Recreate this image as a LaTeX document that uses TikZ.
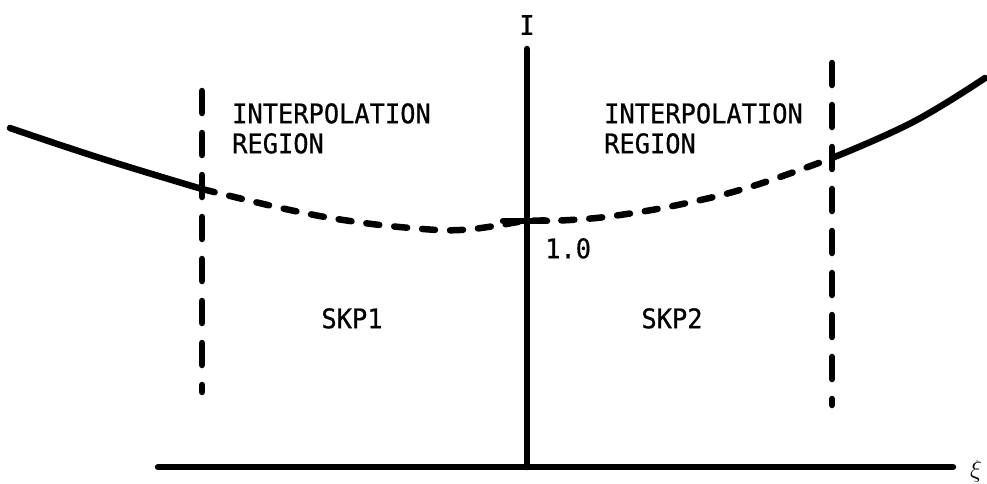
\documentclass[tikz,border=0pt]{standalone}
\usepackage{fontspec}
\newfontfamily\labfont[FakeStretch=0.94,FakeBold=0.6]{DejaVu Sans Mono}
\begin{document}
\begin{tikzpicture}[x=1pt,y=-1pt,
  axisline/.style={line width=6.5pt, line cap=round},
  curveline/.style={line width=6.5pt, line cap=round},
  dashcurve/.style={line width=6.5pt, line cap=round, dash pattern=on 13pt off 15pt},
  regionline/.style={line width=6.5pt, line cap=round, dash pattern=on 22pt off 20pt},
  lab/.style={font=\labfont\fontsize{27}{30}\selectfont, inner sep=0pt, align=left}]
\useasboundingbox (0,0) rectangle (987,483);
% axes
\coordinate (xstart) at (158,467);
\coordinate (xend) at (953,467);
\coordinate (ytop) at (527,49);
\coordinate (ybot) at (527,467);
\draw[axisline] (xstart) -- (xend);
\draw[axisline] (ybot) -- (ytop);
\node[lab, anchor=north] (ilab) at (527,15) {I};
\node[inner sep=0pt, font=\fontsize{30}{32}\selectfont] (xilab) at (976,471) {$\xi$};
% region boundaries
\coordinate (la) at (202,91);
\coordinate (lb) at (202,392);
\coordinate (ra) at (832,63);
\coordinate (rb) at (832,405);
\draw[regionline] (la) -- (lb);
\draw[regionline] (ra) -- (rb);
% solid curve parts
\draw[curveline] plot[smooth, tension=0.7] coordinates {(10,128) (100,158) (202,189)};
\draw[curveline] plot[smooth, tension=0.7] coordinates {(832,158) (913,122) (985,78)};
% dashed interpolation
\draw[dashcurve] plot[smooth, tension=0.7] coordinates {(202,189) (290,210) (357,222) (423,229) (460,230) (495,226) (527,221) (570,220) (620,215) (687,203) (753,186) (832,158)};
% tick at 1.0
\coordinate (tl) at (503,221);
\coordinate (tr) at (547,221);
\draw[curveline] (tl) -- (tr);
\node[lab, anchor=north west] (onelab) at (545,238) {1.0};
% labels
\node[lab, anchor=north west] (leftreg) at (232,103) {INTERPOLATION\\REGION};
\node[lab, anchor=north west] (rightreg) at (604,103) {INTERPOLATION\\REGION};
\node[lab, anchor=north] (skpa) at (352,308) {SKP1};
\node[lab, anchor=north] (skpb) at (672,308) {SKP2};
\end{tikzpicture}
\end{document}
